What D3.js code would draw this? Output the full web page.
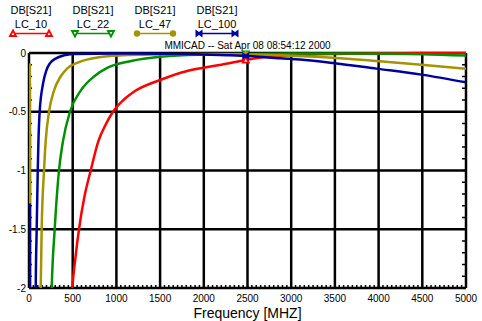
<!DOCTYPE html>
<html>
<head>
<meta charset="utf-8">
<script src="https://cdn.jsdelivr.net/npm/d3@7"></script>
<style>
  body { margin: 0; background: #fff; }
  text { font-family: "Liberation Sans", Arial, sans-serif; }
</style>
</head>
<body>
<div id="chart"></div>
<script>
// [frequency MHz, dB]
const lc10 = [[10,-0.67],[20,-30],[496,-2],[530,-1.75],[572,-1.5],[635,-1.22],[706,-1],[794,-0.75],[870,-0.62],[961,-0.5],[1080,-0.4],[1200,-0.33],[1500,-0.23],[1800,-0.155],[2000,-0.125],[2200,-0.1],[2480,-0.06],[2700,-0.035],[3000,-0.02],[3500,-0.008],[4000,-0.003],[4500,-0.001],[5000,0]];
const lc22 = [[10,-0.255],[20,-30],[260,-2],[294,-1.5],[343,-1],[389,-0.75],[469,-0.5],[592,-0.32],[744,-0.2],[900,-0.125],[1170,-0.068],[1530,-0.03],[2030,-0.014],[2500,-0.008],[3000,-0.005],[3500,-0.004],[4000,-0.006],[4500,-0.01],[5000,-0.022]];
const lc47 = [[10,-0.09],[20,-30],[134,-2],[145,-1.5],[172,-1],[191,-0.75],[229,-0.5],[286,-0.32],[362,-0.2],[439,-0.13],[572,-0.077],[800,-0.036],[1070,-0.02],[1500,-0.012],[2000,-0.008],[2500,-0.01],[2870,-0.02],[3475,-0.04],[3975,-0.068],[4490,-0.1],[5000,-0.135]];
const lc100 = [[10,-1.28],[20,-30],[77,-2],[88,-1.5],[100,-1],[108,-0.75],[122,-0.5],[161,-0.26],[199,-0.147],[237,-0.09],[305,-0.048],[401,-0.02],[496,-0.008],[1000,-0.004],[1500,-0.006],[2000,-0.012],[2300,-0.02],[2560,-0.028],[2870,-0.045],[3100,-0.055],[3475,-0.085],[3975,-0.133],[4490,-0.184],[5000,-0.25]];

const seriesNames = ["LC_10", "LC_22", "LC_47", "LC_100"];
const seriesData = [lc10, lc22, lc47, lc100];
const colors = ["#ff0000", "#009000", "#a39400", "#0000a0"];
const markerFreq = 2480;

const xTicks = [0, 500, 1000, 1500, 2000, 2500, 3000, 3500, 4000, 4500, 5000];
const yTicks = [0, -0.5, -1, -1.5, -2];

const W = 482, H = 321;
const plot = { left: 29, right: 466, top: 53, bottom: 288 };

const svg = d3.select("#chart").append("svg")
  .attr("width", W).attr("height", H);

const x = d3.scaleLinear().domain([0, 5000]).range([plot.left, plot.right]);
const y = d3.scaleLinear().domain([-2, 0]).range([plot.bottom, plot.top]);

// grid
svg.append("g")
  .selectAll("line.vx")
  .data(xTicks)
  .join("line")
  .attr("x1", d => x(d)).attr("x2", d => x(d))
  .attr("y1", plot.top).attr("y2", plot.bottom)
  .attr("stroke", "#000").attr("stroke-width", 2.5);

svg.append("g")
  .selectAll("line.hy")
  .data(yTicks)
  .join("line")
  .attr("x1", plot.left).attr("x2", plot.right)
  .attr("y1", d => y(d)).attr("y2", d => y(d))
  .attr("stroke", "#000").attr("stroke-width", 2.5);

// minor ticks
const minorY = d3.range(0, 21).map(i => -i / 10);
svg.append("g").selectAll("line")
  .data(minorY).join("line")
  .attr("x1", plot.left).attr("x2", plot.left + 3)
  .attr("y1", d => y(d)).attr("y2", d => y(d))
  .attr("stroke", "#000").attr("stroke-width", 1.5);
svg.append("g").selectAll("line")
  .data(minorY).join("line")
  .attr("x1", plot.right - 4).attr("x2", plot.right)
  .attr("y1", d => y(d)).attr("y2", d => y(d))
  .attr("stroke", "#000").attr("stroke-width", 1.5);
const minorX = d3.range(0, 101).map(i => i * 50);
svg.append("g").selectAll("line")
  .data(minorX).join("line")
  .attr("x1", d => x(d)).attr("x2", d => x(d))
  .attr("y1", plot.bottom).attr("y2", plot.bottom - 3)
  .attr("stroke", "#000").attr("stroke-width", 1.5);

// axis labels
svg.append("g").selectAll("text")
  .data(xTicks).join("text")
  .attr("x", d => x(d)).attr("y", 302)
  .attr("text-anchor", "middle")
  .attr("font-size", 10)
  .text(d => d);

svg.append("g").selectAll("text")
  .data(yTicks).join("text")
  .attr("x", 26).attr("y", d => y(d) + 3.5)
  .attr("text-anchor", "end")
  .attr("font-size", 10)
  .text(d => d);

svg.append("text")
  .attr("x", (plot.left + plot.right) / 2).attr("y", 318)
  .attr("text-anchor", "middle")
  .attr("font-size", 14)
  .text("Frequency [MHZ]");

svg.append("text")
  .attr("x", (plot.left + plot.right) / 2).attr("y", 49)
  .attr("text-anchor", "middle")
  .attr("font-size", 10)
  .text("MMICAD -- Sat Apr 08 08:54:12 2000");

// curves
svg.append("clipPath").attr("id", "clip")
  .append("rect")
  .attr("x", plot.left).attr("y", plot.top - 2)
  .attr("width", plot.right - plot.left).attr("height", plot.bottom - plot.top + 2);

const line = d3.line()
  .x(d => x(d[0])).y(d => y(d[1]))
  .curve(d3.curveMonotoneX);

const curves = svg.append("g").attr("clip-path", "url(#clip)");
seriesData.forEach((s, i) => {
  curves.append("path")
    .datum(s)
    .attr("d", line)
    .attr("fill", "none")
    .attr("stroke", colors[i])
    .attr("stroke-width", 2.5);
});

// marker shapes
function marker(g, i, cx, cy) {
  const c = colors[i];
  if (i === 0) {
    g.append("path").attr("d", `M${cx - 3},${cy + 2.5}L${cx},${cy - 3}L${cx + 3},${cy + 2.5}Z`)
      .attr("fill", "#fff").attr("stroke", c).attr("stroke-width", 1.8);
  } else if (i === 1) {
    g.append("path").attr("d", `M${cx - 3},${cy - 2.5}L${cx},${cy + 3}L${cx + 3},${cy - 2.5}Z`)
      .attr("fill", "#fff").attr("stroke", c).attr("stroke-width", 1.8);
  } else if (i === 2) {
    g.append("circle").attr("cx", cx).attr("cy", cy).attr("r", 3.2).attr("fill", c);
  } else {
    g.append("path")
      .attr("d", `M${cx - 3.5},${cy - 4}L${cx},${cy - 1.5}L${cx + 3.5},${cy - 4}L${cx + 3.5},${cy + 4}L${cx},${cy + 1.5}L${cx - 3.5},${cy + 4}Z`)
      .attr("fill", c);
  }
}

const marks = svg.append("g");
seriesData.forEach((s, i) => {
  const interp = d3.scaleLinear().domain(s.map(d => d[0])).range(s.map(d => d[1]));
  marker(marks, i, x(markerFreq), y(interp(markerFreq)));
});

// legend
const legendX = d3.scalePoint().domain(seriesNames).range([31, 217]);
const legend = svg.append("g");
seriesNames.forEach((name, i) => {
  const cx = legendX(name);
  legend.append("text").attr("x", cx).attr("y", 13.5)
    .attr("text-anchor", "middle").attr("font-size", 11).text("DB[S21]");
  legend.append("text").attr("x", cx).attr("y", 27.5)
    .attr("text-anchor", "middle").attr("font-size", 11).text(name);
  legend.append("line")
    .attr("x1", cx - 18).attr("x2", cx + 18)
    .attr("y1", 33.5).attr("y2", 33.5)
    .attr("stroke", colors[i]).attr("stroke-width", 1.5);
  marker(legend, i, cx - 18, 33.5);
  marker(legend, i, cx + 18, 33.5);
});
</script>
</body>
</html>
